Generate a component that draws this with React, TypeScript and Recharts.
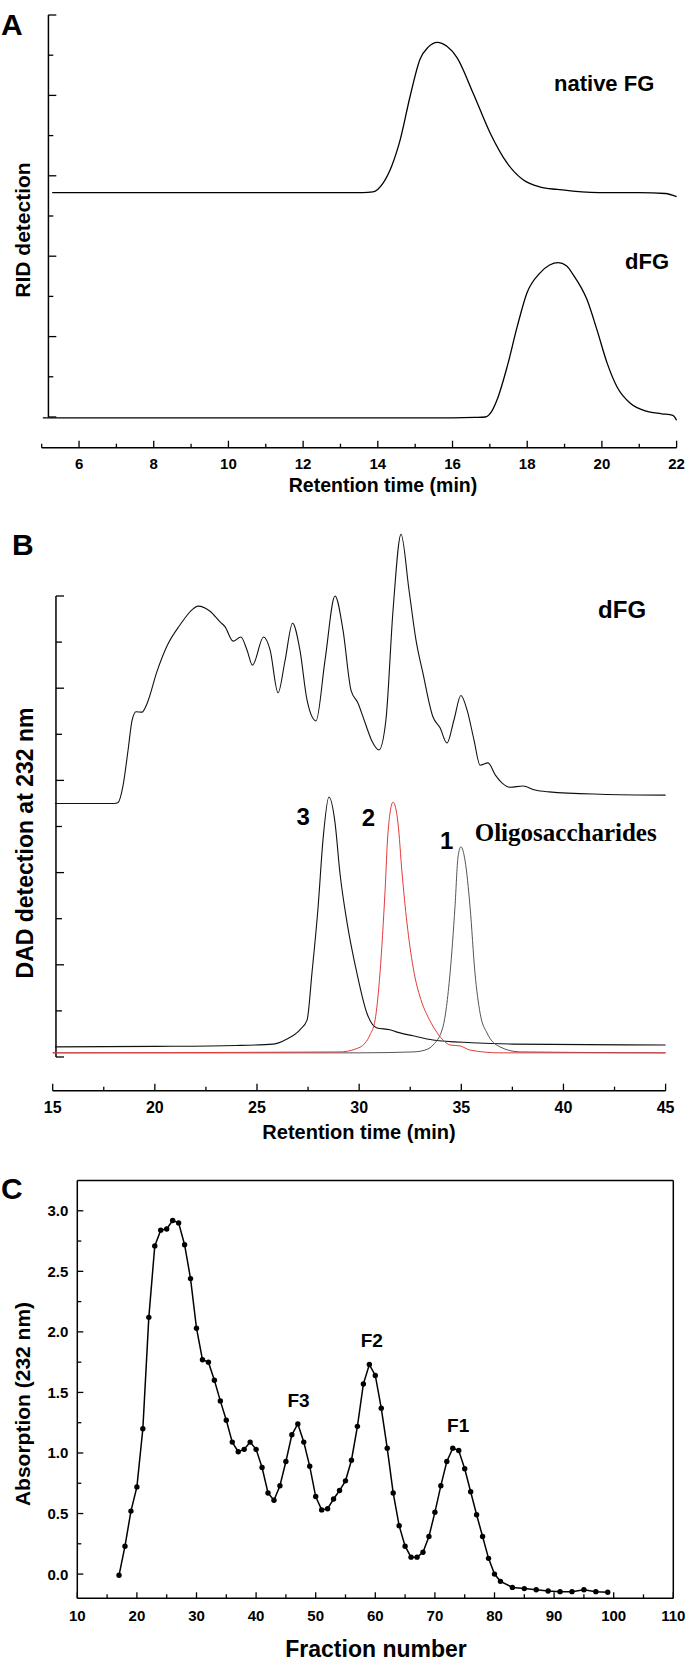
import React from 'react';
import { LineChart, Line, XAxis, YAxis, ReferenceLine, ReferenceDot } from 'recharts';

const FONT = '"Liberation Sans", Arial, Helvetica, sans-serif';
const SERIF = '"Liberation Serif", "Times New Roman", serif';

// ---------------- Panel A : RID detection ----------------
const aNativeTime = [5.28, 8, 11, 13.0, 13.6, 13.87, 14.14, 14.37, 14.6, 14.86, 15.13, 15.35, 15.59, 15.85, 16.12, 16.55, 17.01, 17.46, 17.89, 18.35, 18.8, 19.22, 20.13, 21.0, 21.7, 22.0];
const aNativeSignal = [2.79, 2.79, 2.79, 2.79, 2.79, 2.8, 2.91, 3.12, 3.45, 3.98, 4.45, 4.6, 4.66, 4.61, 4.47, 4.03, 3.53, 3.16, 2.95, 2.86, 2.83, 2.81, 2.79, 2.79, 2.78, 2.74];
const aDfgTime = [5.03, 9, 13, 16.0, 16.6, 16.87, 17.05, 17.19, 17.46, 17.73, 17.99, 18.34, 18.6, 18.83, 19.05, 19.23, 19.6, 19.87, 20.14, 20.41, 20.76, 21.21, 21.6, 21.9, 22.0];
const aDfgSignal = [-0.01, -0.01, -0.01, -0.01, -0.005, 0.0, 0.07, 0.21, 0.62, 1.12, 1.54, 1.79, 1.89, 1.92, 1.88, 1.77, 1.46, 1.08, 0.67, 0.37, 0.17, 0.07, 0.04, 0.02, -0.04];
const aXTicks = [5, 6, 7, 8, 9, 10, 11, 12, 13, 14, 15, 16, 17, 18, 19, 20, 21, 22];
const aYTicks = [0, 0.5, 1, 1.5, 2, 2.5, 3, 3.5, 4, 4.5, 5];
const aNotes = [
  { text: 'native FG', t: 20.06, v: 4.15 },
  { text: 'dFG', t: 21.21, v: 1.94 },
];

// ---------------- Panel B : DAD detection at 232 nm ----------------
const bDfgTime = [15.11, 18.0, 18.2, 18.44, 18.69, 18.88, 19.08, 19.37, 19.62, 20.11, 20.6, 21.23, 21.87, 22.11, 22.7, 23.19, 23.44, 23.83, 24.21, 24.51, 24.78, 25.32, 25.64, 26.03, 26.37, 26.74, 27.1, 27.45, 27.89, 28.33, 28.82, 29.21, 29.6, 29.94, 30.29, 30.63, 30.97, 31.31, 31.66, 32.05, 32.44, 32.78, 33.12, 33.61, 33.96, 34.3, 34.64, 34.98, 35.28, 35.62, 35.92, 36.31, 36.66, 37.0, 37.39, 38.02, 38.61, 39.3, 41.8, 45.0];
const bDfgSignal = [5.5, 5.5, 5.52, 5.88, 6.66, 7.29, 7.49, 7.48, 7.67, 8.37, 8.92, 9.37, 9.72, 9.78, 9.67, 9.44, 9.33, 9.02, 9.11, 8.83, 8.5, 9.11, 8.83, 7.9, 8.59, 9.41, 8.83, 7.74, 7.29, 8.61, 10.0, 9.26, 7.96, 7.68, 7.25, 6.85, 6.66, 7.31, 9.7, 11.34, 10.13, 9.05, 8.33, 7.38, 7.14, 6.81, 7.31, 7.84, 7.53, 6.88, 6.33, 6.38, 6.12, 5.94, 5.85, 5.88, 5.79, 5.75, 5.7, 5.68];
const bOligo3Time = [15.11, 20.0, 24.0, 25.79, 26.47, 27.1, 27.45, 27.69, 27.99, 28.23, 28.52, 28.82, 29.06, 29.41, 29.89, 30.38, 30.87, 31.51, 31.85, 32.64, 33.62, 35.5, 37.53, 45.0];
const bOligo3Signal = [0.22, 0.23, 0.25, 0.28, 0.39, 0.59, 0.8, 1.82, 3.25, 4.71, 5.64, 5.08, 3.99, 2.91, 1.82, 0.95, 0.63, 0.59, 0.54, 0.46, 0.37, 0.31, 0.28, 0.26];
const bOligo1Time = [15.0, 30.0, 32.64, 33.22, 33.62, 34.1, 34.45, 34.69, 34.84, 34.98, 35.18, 35.43, 35.67, 35.92, 36.26, 36.89, 37.87, 45.0];
const bOligo1Signal = [0.09, 0.09, 0.11, 0.15, 0.26, 0.65, 1.82, 3.25, 4.34, 4.56, 4.27, 3.25, 1.82, 0.95, 0.52, 0.22, 0.11, 0.09];
const bOligo2Time = [15.0, 29.06, 29.8, 30.29, 30.53, 30.78, 31.02, 31.27, 31.41, 31.66, 31.9, 32.1, 32.34, 32.64, 33.08, 33.37, 33.72, 34.1, 34.45, 34.94, 35.43, 36.89, 45.0];
const bOligo2Signal = [0.09, 0.11, 0.17, 0.3, 0.48, 0.8, 1.82, 3.62, 4.86, 5.53, 5.08, 3.99, 2.91, 1.95, 1.17, 0.87, 0.59, 0.37, 0.26, 0.24, 0.15, 0.09, 0.09];
const bXTicks = [15, 17.5, 20, 22.5, 25, 27.5, 30, 32.5, 35, 37.5, 40, 42.5, 45];
const bYTicks = [0, 1, 2, 3, 4, 5, 6, 7, 8, 9, 10];
const bNotes = [
  { text: 'dFG', t: 42.87, v: 9.7, serif: false },
  { text: '3', t: 27.26, v: 5.21, serif: false },
  { text: '2', t: 30.45, v: 5.19, serif: false },
  { text: '1', t: 34.29, v: 4.69, serif: false },
  { text: 'Oligosaccharides', t: 40.11, v: 4.88, serif: true },
];

// ---------------- Panel C : fractionation ----------------
const cFraction = [17, 18, 19, 20, 21, 22, 23, 24, 25, 26, 27, 28, 29, 30, 31, 32, 33, 34, 35, 36, 37, 38, 39, 40, 41, 42, 43, 44, 45, 46, 47, 48, 49, 50, 51, 52, 53, 54, 55, 56, 57, 58, 59, 60, 61, 62, 63, 64, 65, 66, 67, 68, 69, 70, 71, 72, 73, 74, 75, 76, 77, 78, 79, 80, 81, 83, 85, 87, 89, 91, 93, 95, 97, 99];
const cAbsorption = [-0.01, 0.23, 0.52, 0.72, 1.2, 2.12, 2.71, 2.84, 2.85, 2.92, 2.9, 2.72, 2.44, 2.03, 1.77, 1.75, 1.6, 1.43, 1.27, 1.09, 1.01, 1.03, 1.09, 1.03, 0.88, 0.67, 0.61, 0.73, 0.93, 1.15, 1.24, 1.09, 0.89, 0.64, 0.53, 0.54, 0.62, 0.69, 0.77, 0.94, 1.22, 1.57, 1.73, 1.64, 1.37, 1.04, 0.67, 0.4, 0.23, 0.14, 0.14, 0.18, 0.31, 0.51, 0.73, 0.93, 1.04, 1.02, 0.87, 0.68, 0.49, 0.31, 0.13, 0.0, -0.06, -0.11, -0.12, -0.13, -0.14, -0.145, -0.145, -0.13, -0.145, -0.15];
const cXTicks = [10, 15, 20, 25, 30, 35, 40, 45, 50, 55, 60, 65, 70, 75, 80, 85, 90, 95, 100, 105, 110];
const cYTicks = [0, 0.25, 0.5, 0.75, 1, 1.25, 1.5, 1.75, 2, 2.25, 2.5, 2.75, 3];
const cNotes = [
  { text: 'F3', f: 47.13, a: 1.437 },
  { text: 'F2', f: 59.4, a: 1.93 },
  { text: 'F1', f: 73.9, a: 1.23 },
];

const zip = (ts: number[], vs: number[]) => ts.map((t, i) => ({ t, v: vs[i] }));

const aNative = zip(aNativeTime, aNativeSignal);
const aDfg = zip(aDfgTime, aDfgSignal);
const bDfg = zip(bDfgTime, bDfgSignal);
const bOligo3 = zip(bOligo3Time, bOligo3Signal);
const bOligo1 = zip(bOligo1Time, bOligo1Signal);
const bOligo2 = zip(bOligo2Time, bOligo2Signal);
const cData = cFraction.map((f, i) => ({ f, a: cAbsorption[i] }));

type TickOpts = {
  isMajor: (v: number) => boolean;
  majorLen: number;
  minorLen: number;
  fontSize?: number;
  labelDy?: number;
  format?: (v: number) => string;
  offset?: number;
  labelGap?: number;
  showLabel?: boolean;
};

const bottomTick = (o: TickOpts) => (props: any) => {
  const { x, y, payload } = props;
  const v = payload.value;
  const major = o.isMajor(v);
  return (
    <g>
      <line x1={x} x2={x} y1={y} y2={y - (major ? o.majorLen : o.minorLen)} stroke="#000" strokeWidth={1.3} />
      {major && (
        <text x={x} y={y + (o.labelDy || 0)} textAnchor="middle" fontFamily={FONT} fontWeight="bold" fontSize={o.fontSize} fill="#000">
          {o.format ? o.format(v) : String(v)}
        </text>
      )}
    </g>
  );
};

const leftTick = (o: TickOpts) => (props: any) => {
  const { x, y, payload } = props;
  const v = payload.value;
  const major = o.isMajor(v);
  const x0 = x + (o.offset || 0);
  return (
    <g>
      <line x1={x0} x2={x0 + (major ? o.majorLen : o.minorLen)} y1={y} y2={y} stroke="#000" strokeWidth={1.3} />
      {o.showLabel && major && (
        <text x={x - (o.labelGap || 0)} y={y} textAnchor="end" dominantBaseline="central" fontFamily={FONT} fontWeight="bold" fontSize={o.fontSize} fill="#000">
          {o.format ? o.format(v) : String(v)}
        </text>
      )}
    </g>
  );
};

const textShape = (text: string, size: number, family: string) => (p: any) => (
  <text x={p.cx} y={p.cy} textAnchor="middle" dominantBaseline="central" fontFamily={family} fontWeight="bold" fontSize={size} fill="#000">
    {text}
  </text>
);

const isInt = (v: number) => Math.abs(v - Math.round(v)) < 1e-6;

function PanelA() {
  return (
    <LineChart width={689} height={500} margin={{ top: 15, right: 12.4, bottom: 0, left: 31.7 }}>
      <XAxis
        dataKey="t"
        type="number"
        domain={[5, 22]}
        ticks={aXTicks}
        interval={0}
        height={52.3}
        tickSize={0}
        tickMargin={0}
        tickLine={false}
        axisLine={{ stroke: '#000', strokeWidth: 1.5 }}
        tick={bottomTick({ isMajor: (v) => v % 2 === 0, majorLen: 7, minorLen: 4, fontSize: 15, labelDy: 21.3 })}
      />
      <YAxis
        type="number"
        domain={[-0.382, 5]}
        ticks={aYTicks}
        interval={0}
        width={10}
        tickSize={0}
        tickMargin={0}
        tickLine={false}
        axisLine={false}
        tick={leftTick({ isMajor: isInt, majorLen: 8, minorLen: 5, offset: 6.6 })}
      />
      <ReferenceLine segment={[{ x: 5.18, y: 0 }, { x: 5.18, y: 5 }]} stroke="#000" strokeWidth={1.5} ifOverflow="visible" />
      <Line data={aNative} dataKey="v" type="monotone" stroke="#000" strokeWidth={1.3} dot={false} isAnimationActive={false} />
      <Line data={aDfg} dataKey="v" type="monotone" stroke="#000" strokeWidth={1.3} dot={false} isAnimationActive={false} />
      {aNotes.map((n) => (
        <ReferenceDot key={n.text} x={n.t} y={n.v} r={1} ifOverflow="visible" shape={textShape(n.text, 22, FONT)} />
      ))}
    </LineChart>
  );
}

function PanelB() {
  return (
    <LineChart width={689} height={640} margin={{ top: 25, right: 23.4, bottom: 0, left: 42.7 }}>
      <XAxis
        dataKey="t"
        type="number"
        domain={[15, 45]}
        ticks={bXTicks}
        interval={0}
        height={49.3}
        tickSize={0}
        tickMargin={0}
        tickLine={false}
        axisLine={{ stroke: '#000', strokeWidth: 1.5 }}
        tick={bottomTick({ isMajor: (v) => v % 5 === 0, majorLen: 7, minorLen: 4, fontSize: 16, labelDy: 22.3 })}
      />
      <YAxis
        type="number"
        domain={[-0.731, 11.54]}
        ticks={bYTicks}
        interval={0}
        width={10}
        tickSize={0}
        tickMargin={0}
        tickLine={false}
        axisLine={false}
        tick={leftTick({ isMajor: (v) => v % 2 === 0, majorLen: 8, minorLen: 6, offset: 3.3 })}
      />
      <ReferenceLine segment={[{ x: 15.16, y: 0 }, { x: 15.16, y: 10 }]} stroke="#000" strokeWidth={1.5} ifOverflow="visible" />
      <Line data={bDfg} dataKey="v" type="monotone" stroke="#111" strokeWidth={1.1} dot={false} isAnimationActive={false} />
      <Line data={bOligo3} dataKey="v" type="monotone" stroke="#111" strokeWidth={1.1} dot={false} isAnimationActive={false} />
      <Line data={bOligo1} dataKey="v" type="monotone" stroke="#555" strokeWidth={1} dot={false} isAnimationActive={false} />
      <Line data={bOligo2} dataKey="v" type="monotone" stroke="#e23b3b" strokeWidth={1} dot={false} isAnimationActive={false} />
      {bNotes.map((n) => (
        <ReferenceDot key={n.text} x={n.t} y={n.v} r={1} ifOverflow="visible" shape={textShape(n.text, n.serif ? 25 : 24, n.serif ? SERIF : FONT)} />
      ))}
    </LineChart>
  );
}

function PanelC() {
  return (
    <LineChart width={689} height={526} margin={{ top: 40.5, right: 15.7, bottom: 0, left: 37.3 }}>
      <XAxis
        dataKey="f"
        type="number"
        domain={[10, 110]}
        ticks={cXTicks}
        interval={0}
        height={67.7}
        tickSize={0}
        tickMargin={0}
        tickLine={false}
        axisLine={{ stroke: '#000', strokeWidth: 1.5 }}
        tick={bottomTick({ isMajor: (v) => v % 10 === 0, majorLen: 6, minorLen: 4, fontSize: 15, labelDy: 22.4 })}
      />
      <YAxis
        type="number"
        domain={[-0.2, 3.25]}
        ticks={cYTicks}
        interval={0}
        width={40}
        tickSize={0}
        tickMargin={0}
        tickLine={false}
        axisLine={{ stroke: '#000', strokeWidth: 1.5 }}
        tick={leftTick({ isMajor: (v) => isInt(v * 2), majorLen: 6, minorLen: 4, offset: 0, showLabel: true, labelGap: 9, fontSize: 15, format: (v) => v.toFixed(1) })}
      />
      <ReferenceLine y={3.25} stroke="#000" strokeWidth={1.5} ifOverflow="visible" />
      <ReferenceLine x={110} stroke="#000" strokeWidth={1.5} ifOverflow="visible" />
      <Line
        data={cData}
        dataKey="a"
        type="linear"
        stroke="#000"
        strokeWidth={1.5}
        dot={{ r: 2.7, fill: '#000', stroke: '#000', strokeWidth: 0 }}
        isAnimationActive={false}
      />
      {cNotes.map((n) => (
        <ReferenceDot key={n.text} x={n.f} y={n.a} r={1} ifOverflow="visible" shape={textShape(n.text, 19, FONT)} />
      ))}
    </LineChart>
  );
}

export default function App() {
  const letter = { fontFamily: FONT, fontWeight: 'bold' as const, fontSize: 30, fill: '#000' };
  const title = { fontFamily: FONT, fontWeight: 'bold' as const, fill: '#000', textAnchor: 'middle' as const };
  return (
    <div style={{ position: 'absolute', left: 0, top: 0, width: 689, height: 1666, background: '#fff' }}>
      <div style={{ position: 'absolute', left: 0, top: 0 }}>
        <PanelA />
      </div>
      <div style={{ position: 'absolute', left: 0, top: 500 }}>
        <PanelB />
      </div>
      <div style={{ position: 'absolute', left: 0, top: 1140 }}>
        <PanelC />
      </div>
      <svg width={689} height={1666} style={{ position: 'absolute', left: 0, top: 0, pointerEvents: 'none' }}>
        <text x={1} y={35} {...letter}>A</text>
        <text x={12} y={555} {...letter}>B</text>
        <text x={1} y={1199} {...letter}>C</text>
        <text transform="translate(22.5,230) rotate(-90)" dominantBaseline="central" fontSize={21} {...title}>RID detection</text>
        <text transform="translate(25,843) rotate(-90)" dominantBaseline="central" fontSize={23} {...title}>DAD detection at 232 nm</text>
        <text transform="translate(22,1404) rotate(-90)" dominantBaseline="central" fontSize={21} {...title}>Absorption (232 nm)</text>
        <text x={383} y={492} fontSize={19.5} {...title}>Retention time (min)</text>
        <text x={359} y={1139} fontSize={20} {...title}>Retention time (min)</text>
        <text x={376} y={1657} fontSize={23} {...title}>Fraction number</text>
      </svg>
    </div>
  );
}
